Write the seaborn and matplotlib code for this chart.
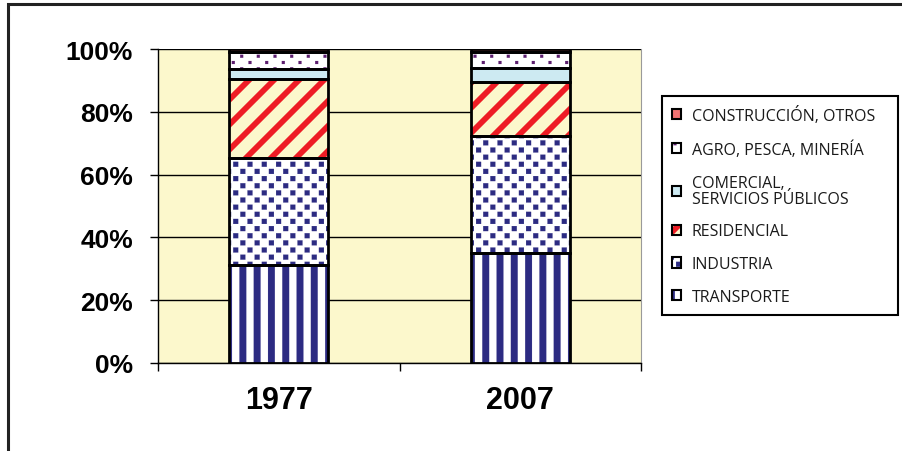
import numpy as np
import matplotlib
matplotlib.use('Agg')
import matplotlib.pyplot as plt
import matplotlib.hatch as mhatch
from matplotlib.path import Path
from matplotlib.patches import Patch, Rectangle
from matplotlib.ticker import FixedLocator, FuncFormatter
import seaborn as sns

years = ['1977', '2007']
sectors = ['TRANSPORTE', 'INDUSTRIA', 'RESIDENCIAL',
           'COMERCIAL,\nSERVICIOS PÚBLICOS', 'AGRO, PESCA, MINERÍA',
           'CONSTRUCCIÓN, OTROS']
# percent of total, stacked bottom -> top
share_1977 = [31.2, 34.0, 25.4, 3.0, 5.4, 1.0]
share_2007 = [35.0, 37.4, 17.2, 4.5, 4.9, 1.0]

cream = '#FCF8CC'
navy = '#2C2B82'
# (face, pattern ink, hatch)
styles = [('white', navy, '|'),
          ('white', navy, 'o'),
          (cream, '#EE1C25', '/'),
          ('#CDEAF2', 'black', None),
          ('white', '#5C1E6E', '.'),
          ('#F07272', 'black', None)]


# filled hatch tiles (one tile = 72pt), closer to the original textures
RECT = [Path.MOVETO, Path.LINETO, Path.LINETO, Path.LINETO, Path.CLOSEPOLY]


def box(x, y, w, h):
    return np.array([[x, y], [x + w, y], [x + w, y + h], [x, y + h], [x, y]])


class FilledPattern(mhatch.HatchPatternBase):
    char = ''

    def __init__(self, hatch, density):
        self.polys = self.shapes() if self.char in hatch else []
        self.num_vertices = 5 * len(self.polys)

    def set_vertices_and_codes(self, vertices, codes):
        vertices[:] = np.concatenate(self.polys)
        codes[:] = RECT * len(self.polys)


class Stripes(FilledPattern):
    char = '|'

    def shapes(self):
        n, w = 7, 0.068
        return [box(k / n - w / 2, 0, w, 1) for k in range(n + 1)]


class Diagonal(FilledPattern):
    char = '/'

    def shapes(self):
        n, w = 4, 0.08
        return [np.array([[k / n, 0], [k / n + w, 0], [k / n + w + 1, 1],
                          [k / n + 1, 1], [k / n, 0]]) for k in range(-n, n + 1)]


class Grid(FilledPattern):
    cols, rows, side = 1, 1, 0.1

    def shapes(self):
        out = []
        for j in range(self.rows + 1):
            shift = 0.5 / self.cols if j % 2 else 0.0
            for i in range(-1, self.cols + 1):
                x = i / self.cols + shift
                y = j / self.rows
                out.append(box(x - self.side / 2, y - self.side / 2, self.side, self.side))
        return out


class Squares(Grid):
    char, cols, rows, side = 'o', 7, 14, 0.05


class Dots(Grid):
    char, cols, rows, side = '.', 6, 16, 0.03


mhatch._hatch_types = [Stripes, Diagonal, Squares, Dots]

sns.set_theme(style='white')
plt.rcParams['font.family'] = ['Liberation Sans', 'DejaVu Sans']
plt.rcParams['hatch.linewidth'] = 0.1

fig = plt.figure(figsize=(9.02, 4.52), dpi=100)
ax = fig.add_axes([158 / 902, 88 / 452, 483 / 902, 314 / 452])
ax.set_facecolor(cream)

shares = np.array([share_1977, share_2007])
bottom = np.zeros(len(years))
for i, sector in enumerate(sectors):
    vals = shares[:, i]
    face, ink, hatch = styles[i]
    sns.barplot(x=years, y=vals, bottom=bottom, width=0.41, color=face, saturation=1,
                edgecolor=ink, linewidth=0, hatch=hatch, errorbar=None, ax=ax, zorder=2)
    sns.barplot(x=years, y=vals, bottom=bottom, width=0.41, fill=False, color='black',
                linewidth=2, errorbar=None, ax=ax, zorder=3)
    bottom += vals

# axes
ax.set_xlim(-0.5, 1.5)
ax.set_ylim(0, 100)
ax.yaxis.set_major_locator(FixedLocator([0, 20, 40, 60, 80, 100]))
ax.yaxis.set_major_formatter(FuncFormatter(lambda v, p: f'{v:.0f}%'))
ax.yaxis.grid(True, color='black', lw=1)
ax.xaxis.grid(False)
ax.set_axisbelow(True)
ax.set_xlabel('')
ax.set_ylabel('')
ax.xaxis.set_minor_locator(FixedLocator([-0.5, 0.5, 1.5]))
ax.tick_params(axis='y', which='major', left=True, direction='out', length=6, width=1,
               color='black', pad=12, labelsize=19)
ax.tick_params(axis='x', which='major', length=0, pad=16, labelsize=22)
ax.tick_params(axis='x', which='minor', bottom=True, direction='out', length=6, width=1,
               color='black')
for lab in ax.get_xticklabels() + ax.get_yticklabels():
    lab.set_fontweight('bold')
    lab.set_color('black')
for side in ['left', 'bottom']:
    ax.spines[side].set_color('black')
    ax.spines[side].set_linewidth(1)
ax.spines['top'].set_visible(False)
ax.spines['right'].set_color('#9A9A9A')
ax.spines['right'].set_linewidth(0.8)

# legend, top entry = top of the stack
handles = [(Patch(facecolor=f, edgecolor=k, hatch=h, lw=0),
            Patch(facecolor='none', edgecolor='black', lw=1.5)) for f, k, h in styles[::-1]]
leg = ax.legend(handles, sectors[::-1], loc='upper left', mode='expand',
                bbox_to_anchor=(662 / 902, 139 / 452, 236 / 902, 216 / 452),
                bbox_transform=fig.transFigure,
                borderaxespad=0, frameon=True, fancybox=False, framealpha=1,
                edgecolor='black', handlelength=0.6, handleheight=0.6, handletextpad=0.65,
                labelspacing=1.05, borderpad=0.6,
                prop={'family': 'Open Sans', 'size': 11.5})
leg.get_frame().set_linewidth(1.5)
for t in leg.get_texts():
    t.set_linespacing(1.0)
    t.set_color('#1A1A1A')

# outer frame of the original figure
fig.add_artist(Rectangle((8 / 902, -0.5), 2, 0.5 + 447 / 452, transform=fig.transFigure,
                         fill=False, edgecolor='#222222', lw=2.2, clip_on=False))

fig.savefig('out.png', dpi=100)
